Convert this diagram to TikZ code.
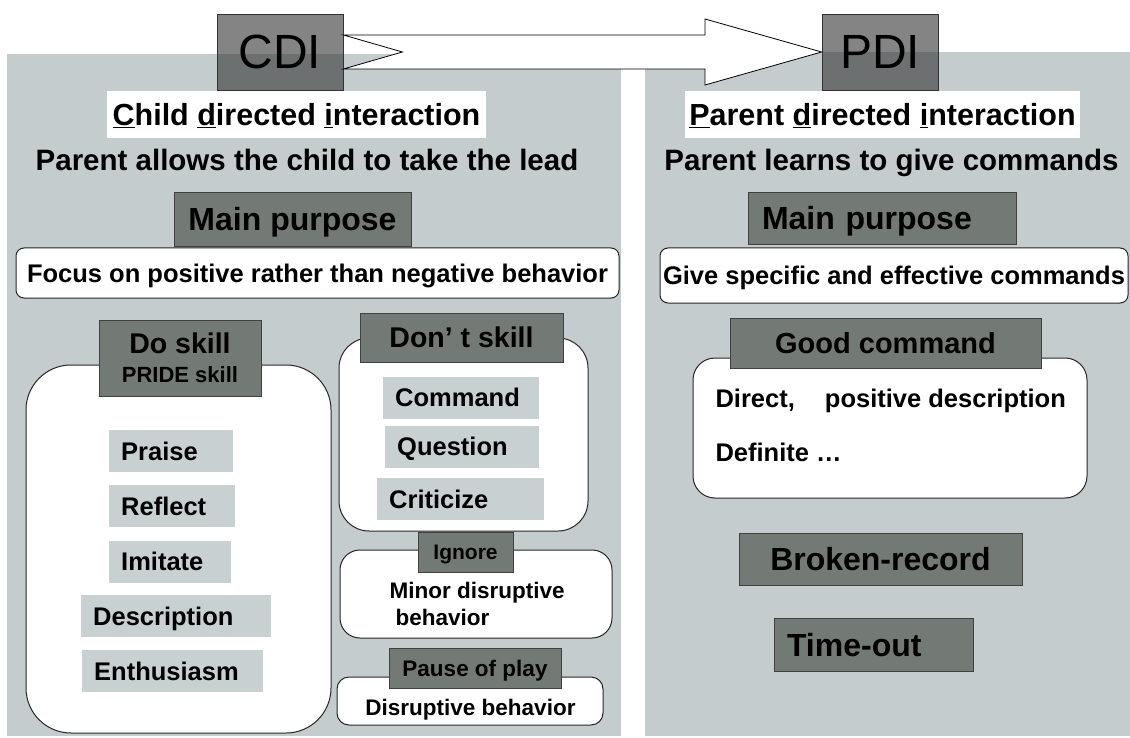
\documentclass[tikz,border=0pt]{standalone}
\usepackage{fontspec}
\setmainfont{Liberation Sans}
\usetikzlibrary{positioning,calc}
\definecolor{panelgray}{HTML}{C4CCCE}
\definecolor{headgray}{HTML}{737A75}
\definecolor{itemgray}{HTML}{C8D0D1}

\begin{document}
\begin{tikzpicture}[
    x=1pt, y=-1pt,
    tagStyle/.style={rectangle, draw=black!80, line width=0.8pt, fill=black!80, fill opacity=0.6, text opacity=1,
        font=\fontsize{48}{50}\selectfont, text height=34pt, text depth=0pt, inner sep=0pt},
    headStyle/.style={rectangle, draw=black!75, line width=0.8pt, fill=headgray, inner sep=0pt},
    noteStyle/.style={rectangle, fill=white, inner sep=0pt},
    roundStyle/.style={rectangle, draw=black!85, line width=1pt, fill=white, rounded corners=#1, inner sep=0pt},
    itemStyle/.style={rectangle, fill=itemgray, anchor=west, inner xsep=12pt, inner ysep=0pt, minimum height=42pt,
        text width=#1, align=left, txtS},
    arrowStyle/.style={draw=black, line width=0.8pt, fill=white, line join=miter},
    txtXL/.style={font=\bfseries\fontsize{32}{34}\selectfont, text height=23pt, text depth=0pt},
    txtL/.style={font=\bfseries\fontsize{30.5}{32}\selectfont, text height=22pt, text depth=0pt},
    txtM/.style={font=\bfseries\fontsize{28.5}{30}\selectfont, text height=20.5pt, text depth=0pt},
    txtS/.style={font=\bfseries\fontsize{25.5}{27}\selectfont, text height=18.3pt, text depth=0pt},
    txtXS/.style={font=\bfseries\fontsize{22.5}{27}\selectfont, text height=16pt, text depth=0pt}
]
    \fill[white] (0,0) rectangle (1130,738);
    \useasboundingbox (0,0) rectangle (1130,738);

    % Two panels
    \fill[panelgray] (7,54) rectangle (621,736);
    \fill[panelgray] (645,52) rectangle (1130,736);

    % CDI -> PDI
    \node[tagStyle, minimum width=126pt, minimum height=76pt] (cdi) at (280,52) {CDI};
    \node[tagStyle, minimum width=116pt, minimum height=76pt] (pdi) at (880,52) {PDI};
    \coordinate (neck) at (705,52);
    \draw[arrowStyle] ([yshift=17pt]cdi.east) -- ([yshift=17pt]neck) -- ([yshift=33pt]neck) -- (pdi.west)
        -- ([yshift=-33pt]neck) -- ([yshift=-17pt]neck) -- ([yshift=-17pt]cdi.east) -- ([xshift=59pt]cdi.east) -- cycle;

    % Left panel: child directed interaction
    \node[noteStyle, txtL, minimum width=379pt, minimum height=47pt] (cdiName) at (296.5,114.5)
        {\underline{C}hild \underline{d}irected \underline{i}nteraction};
    \node[font=\bfseries\fontsize{29.5}{31}\selectfont, anchor=base] (cdiLead) at (307,171)
        {Parent allows the child to take the lead};
    \node[headStyle, txtXL, minimum width=237pt, minimum height=54pt] (cdiPurpose) at (292.5,219) {Main purpose};
    \node[roundStyle=8pt, txtS, minimum width=603pt, minimum height=50pt] (cdiGoal) at (317.5,273)
        {Focus on positive rather than negative behavior};

    % Do skill
    \node[roundStyle=45pt, minimum width=305pt, minimum height=368pt] (doBox) at (178.5,549) {};
    \node[headStyle, minimum width=162pt, minimum height=76pt, align=center, font=\bfseries\fontsize{28.5}{29}\selectfont] (doHead) at (180,358)
        {Do skill\\{\fontsize{22}{29}\selectfont PRIDE skill}};
    \node[itemStyle=100pt] (praise) at (109,451) {Praise};
    \node[itemStyle=102pt] (reflect) at (109,506) {Reflect};
    \node[itemStyle=98pt] (imitate) at (109,561.5) {Imitate};
    \node[itemStyle=166pt] (describe) at (81,616) {Description};
    \node[itemStyle=157pt] (enthuse) at (82,671) {Enthusiasm};

    % Don't skill
    \node[roundStyle=30pt, minimum width=249pt, minimum height=193pt] (dontBox) at (463.5,434.5) {};
    \node[headStyle, txtM, minimum width=203pt, minimum height=49pt] (dontHead) at (461.5,337.5) {Don’ t skill};
    \node[itemStyle=132pt] (command) at (383,397.5) {Command};
    \node[itemStyle=130pt] (question) at (385,446.5) {Question};
    \node[itemStyle=143pt] (criticize) at (377,499) {Criticize};

    % Ignore
    \node[roundStyle=20pt, minimum width=272pt, minimum height=88pt] (minorBox) at (476,594) {};
    \node[headStyle, font=\bfseries\fontsize{21}{22}\selectfont, text height=15pt, text depth=0pt,
        minimum width=95pt, minimum height=40pt] (ignore) at (465.5,552) {Ignore};
    \node[txtXS, anchor=base west] (minorA) at (386,598) {Minor disruptive};
    \node[txtXS, anchor=base west] (minorB) at (392,625) {behavior};

    % Pause of play
    \node[roundStyle=12pt, minimum width=266pt, minimum height=48pt] (pauseBox) at (470,701) {};
    \node[headStyle, txtXS, minimum width=172pt, minimum height=40pt] (pause) at (475,668) {Pause of play};
    \node[txtXS, anchor=base] (pauseText) at (470.5,715) {Disruptive behavior};

    % Right panel: parent directed interaction
    \node[noteStyle, txtL, minimum width=395pt, minimum height=47pt] (pdiName) at (882.5,115)
        {\underline{P}arent \underline{d}irected \underline{i}nteraction};
    \node[font=\bfseries\fontsize{29.5}{31}\selectfont, anchor=base] (pdiLead) at (891.5,171)
        {Parent learns to give commands};
    \node[headStyle, txtXL, minimum height=52pt, inner xsep=14pt, text width=240pt, align=left] (pdiPurpose) at (882,218) {Main purpose};
    \node[roundStyle=8pt, txtS, minimum width=468pt, minimum height=55pt] (pdiGoal) at (894,275.5)
        {Give specific and effective commands};

    % Good command
    \node[roundStyle=22pt, minimum width=394pt, minimum height=140pt] (goodBox) at (890,428) {};
    \node[headStyle, font=\bfseries\fontsize{29}{30}\selectfont, text height=21pt, text depth=0pt,
        minimum width=311pt, minimum height=50pt] (goodHead) at (885.5,343) {Good command};
    \node[txtS, anchor=base west] (goodA) at (712,407) {Direct,\hspace{23pt} positive description};
    \node[txtS, anchor=base west] (goodB) at (712,461) {Definite …};

    % Broken-record and time-out
    \node[headStyle, txtXL, minimum width=283pt, minimum height=52pt] (broken) at (880.5,559) {Broken-record};
    \node[headStyle, txtXL, minimum height=53pt, inner xsep=13pt, text width=173pt, align=left] (timeout) at (873.5,644.5) {Time-out};
\end{tikzpicture}
\end{document}
